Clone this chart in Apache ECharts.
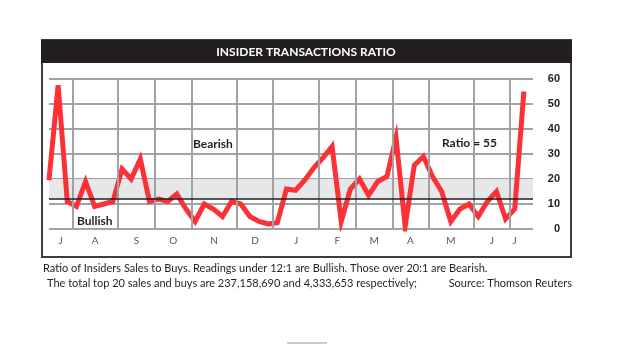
<!DOCTYPE html>
<html>
<head>
<meta charset="utf-8">
<script src="https://cdn.jsdelivr.net/npm/echarts@6/dist/echarts.min.js"></script>
<style>
  html, body { margin: 0; padding: 0; background: #ffffff; }
  #chart { width: 635px; height: 345px; }
</style>
</head>
<body>
<div id="chart"></div>
<script>
// Weekly insider sales-to-buys ratio, one value per week (week 0 = first reading)
const ratioValues = [
  19.5, 57.5, 11, 9, 19, 9, 10, 11, 24, 20, 28, 11, 12, 11, 14, 8, 3, 10, 8, 5,
  11, 10, 5, 3, 2, 2.5, 16, 15.5, 19.5, 24.5, 28.5, 33, 3, 16, 20, 13.5, 19, 21, 36.5, 1,
  25.5, 29, 21, 15, 3, 8, 10, 5, 11, 15, 4, 8, 55
];
// Month boundaries, in weeks
const monthBoundaries = [2.55, 7.55, 11.6, 15.6, 20.55, 24.55, 29.55, 33.6, 37.6, 41.55, 46.5, 50.5];
// Month labels and where they sit, in weeks
const monthLabels = ['J', 'A', 'S', 'O', 'N', 'D', 'J', 'F', 'M', 'A', 'M', 'J', 'J'];
const monthLabelWeeks = [1.27, 5.05, 9.57, 13.6, 18.07, 22.55, 27.05, 31.57, 35.6, 39.57, 44.0, 48.5, 51.0];
// Ratio thresholds
const bullishBelow = 12;
const bearishAbove = 20;
// Value-axis ticks
const yTicks = [0, 10, 20, 30, 40, 50, 60];

const chart = echarts.init(document.getElementById('chart'), null, { renderer: 'canvas' });

const textFont = 'Lato, "Open Sans", sans-serif';
const lastValue = ratioValues[ratioValues.length - 1];

const option = {
  animation: false,
  backgroundColor: '#ffffff',
  grid: { left: 49, right: 102, top: 79, bottom: 116, containLabel: false },
  xAxis: {
    type: 'value',
    min: 0,
    max: 53,
    axisLine: { show: false },
    axisTick: { show: false },
    splitLine: { show: false },
    axisLabel: {
      customValues: monthLabelWeeks,
      formatter: function (v) {
        const i = monthLabelWeeks.indexOf(v);
        return i >= 0 ? monthLabels[i] : '';
      },
      color: '#555555',
      fontFamily: textFont,
      fontSize: 10,
      margin: 7
    }
  },
  yAxis: {
    type: 'value',
    position: 'right',
    min: yTicks[0],
    max: yTicks[yTicks.length - 1],
    interval: 10,
    axisLine: { show: false },
    axisTick: { show: false },
    splitLine: { show: true, lineStyle: { color: '#a0a2a5', width: 2 } },
    axisLabel: {
      color: '#231f20',
      fontFamily: '"Liberation Sans", Arial, sans-serif',
      fontWeight: 'bold',
      fontSize: 11,
      align: 'right',
      margin: 27
    }
  },
  series: [
    {
      // neutral zone between the bullish and bearish thresholds
      type: 'line',
      data: [],
      z: -1,
      silent: true,
      markArea: {
        silent: true,
        itemStyle: { color: '#e6e7e8' },
        data: [[{ yAxis: bullishBelow }, { yAxis: bearishAbove }]]
      }
    },
    {
      // month dividers and the bullish threshold line
      type: 'line',
      data: [],
      z: 1,
      silent: true,
      markLine: {
        silent: true,
        symbol: 'none',
        label: { show: false },
        lineStyle: { color: '#a0a2a5', width: 2, type: 'solid' },
        data: monthBoundaries.map(function (w) { return { xAxis: w }; }).concat([
          { yAxis: bullishBelow, lineStyle: { color: '#231f20', width: 1.5, type: 'solid' } }
        ])
      }
    },
    {
      name: 'Ratio',
      type: 'line',
      z: 3,
      showSymbol: false,
      symbol: 'none',
      data: ratioValues.map(function (v, i) { return [i, v]; }),
      lineStyle: { color: '#fa3237', width: 5, join: 'miter', cap: 'butt' }
    }
  ],
  graphic: [
    // frame
    { type: 'rect', shape: { x: 42, y: 40, width: 529, height: 217 },
      style: { fill: null, stroke: '#3c3c3c', lineWidth: 2 }, z: 10 },
    // title bar
    { type: 'rect', shape: { x: 41, y: 40, width: 531, height: 23 },
      style: { fill: '#231f20' }, z: 11 },
    { type: 'text', x: 306, y: 52, z: 12,
      style: { text: 'INSIDER TRANSACTIONS RATIO', fill: '#ffffff', font: 'bold 12px ' + textFont,
               textAlign: 'center', textVerticalAlign: 'middle' } },
    // zone annotations
    { type: 'text', x: 193, y: 144, z: 12,
      style: { text: 'Bearish', fill: '#231f20', font: 'bold 12px ' + textFont, textAlign: 'left', textVerticalAlign: 'middle' } },
    { type: 'text', x: 77, y: 221, z: 12,
      style: { text: 'Bullish', fill: '#231f20', font: 'bold 12px ' + textFont, textAlign: 'left', textVerticalAlign: 'middle' } },
    { type: 'text', x: 442, y: 143, z: 12,
      style: { text: 'Ratio = ' + lastValue, fill: '#231f20', font: 'bold 12px ' + textFont, textAlign: 'left', textVerticalAlign: 'middle' } },
    // footnotes
    { type: 'text', x: 43, y: 268, z: 12,
      style: { text: 'Ratio of Insiders Sales to Buys. Readings under 12:1 are Bullish. Those over 20:1 are Bearish.',
               fill: '#231f20', font: '11px ' + textFont, textAlign: 'left', textVerticalAlign: 'middle' } },
    { type: 'text', x: 47, y: 283, z: 12,
      style: { text: 'The total top 20 sales and buys are 237,158,690 and 4,333,653 respectively;',
               fill: '#231f20', font: '11px ' + textFont, textAlign: 'left', textVerticalAlign: 'middle' } },
    { type: 'text', x: 572, y: 283, z: 12,
      style: { text: 'Source: Thomson Reuters',
               fill: '#231f20', font: '11px ' + textFont, textAlign: 'right', textVerticalAlign: 'middle' } },
    // page divider
    { type: 'rect', shape: { x: 287, y: 342, width: 40, height: 2 }, style: { fill: '#cccccc' }, z: 12 }
  ]
};

chart.setOption(option);
</script>
</body>
</html>
